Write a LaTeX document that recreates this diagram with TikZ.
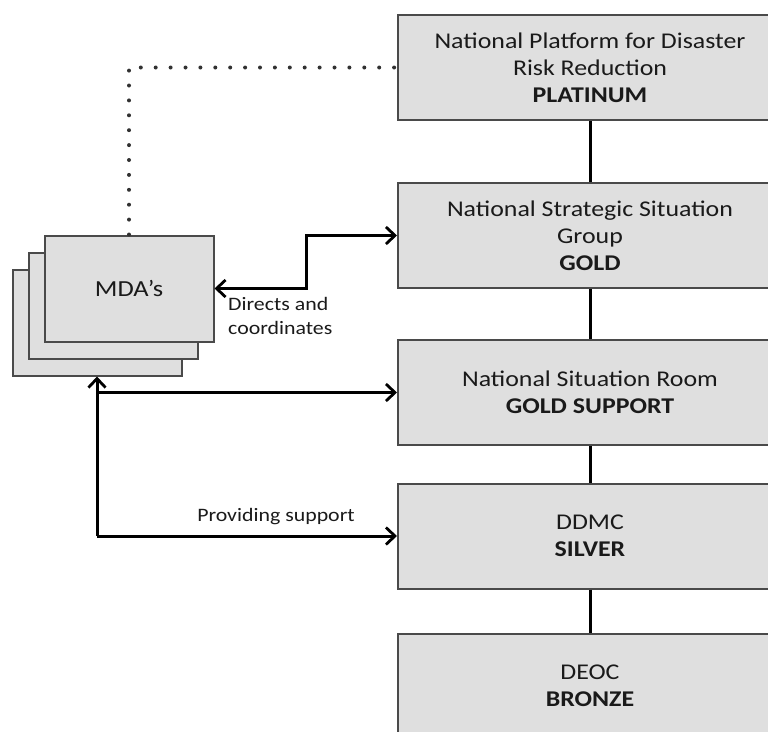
\documentclass[tikz,border=0pt]{standalone}
\usepackage{fontspec}
\setmainfont{Carlito}[FakeStretch=1.15]
\usetikzlibrary{arrows.meta}
\definecolor{boxfill}{HTML}{DFDFDF}
\definecolor{boxline}{HTML}{4A4A4A}
\definecolor{ink}{HTML}{1A1A1A}
\tikzset{
  level/.style={draw=boxline, line width=2pt, fill=boxfill, minimum width=384pt,
    minimum height=105pt, align=center, text=ink, font=\fontsize{22.5}{27}\selectfont,
    inner sep=0pt},
  sheet/.style={draw=boxline, line width=2pt, fill=boxfill, minimum width=169pt,
    minimum height=106pt, inner sep=0pt, text=ink, font=\fontsize{23}{27}\selectfont},
  link/.style={line width=3pt, black},
  tipshape/.style={},
  arr/.style={link, -{Straight Barb[length=9pt, width=17pt, line width=2.8pt]}},
  darr/.style={link, {Straight Barb[length=9pt, width=17pt, line width=2.8pt]}-{Straight Barb[length=9pt, width=17pt, line width=2.8pt]}},
  note/.style={text=ink, font=\fontsize{19}{24}\selectfont, inner sep=0pt},
}
\begin{document}
\begin{tikzpicture}[x=1pt, y=-1pt]
\useasboundingbox (0,0) rectangle (768,731);
\clip (0,0) rectangle (768,731);

% hierarchy of levels on the right
\node[level] (p1) at (590,67.5) {National Platform for Disaster\\Risk Reduction\\\textbf{PLATINUM}};
\node[level] (p2) at (590,235.5) {National Strategic Situation\\Group\\\textbf{GOLD}};
\node[level] (p3) at (590,392.5) {National Situation Room\\\textbf{GOLD SUPPORT}};
\node[level] (p4) at (590,536) {DDMC\\\textbf{SILVER}};
\node[level] (p5) at (590,686) {DEOC\\\textbf{BRONZE}};

\draw[link] (p1.south) -- (p2.north);
\draw[link] (p2.south) -- (p3.north);
\draw[link] (p3.south) -- (p4.north);
\draw[link] (p4.south) -- (p5.north);

% stacked MDA sheets
\node[sheet] (m3) at (97,322.5) {};
\node[sheet] (m2) at (113.5,306) {};
\node[sheet] (m1) at (129,288.5) {MDA’s};

% dotted reporting line to the platform
\coordinate (dotcorner) at (m1.north |- p1.west);
\draw[line width=4pt, color=ink!90, dash pattern=on 0pt off 14.9pt, line cap=round]
  (m1.north) -- (dotcorner) -- (p1.west);

% directs and coordinates
\coordinate (stepA) at (306,0 |- m1.east);
\coordinate (stepB) at (306,0 |- p2.west);
\draw[darr] (m1.east) -- (stepA) -- (stepB) -- (p2.west);
\node[note, anchor=north west, align=left] (dlabel) at (228,297) {Directs and\\coordinates};

% support links
\coordinate (suppA) at (m3.south |- p3.west);
\coordinate (suppB) at (m3.south |- p4.west);
\draw[arr] (suppB) -- (m3.south);
\draw[arr] (suppA) -- (p3.west);
\draw[arr] (suppB) -- (p4.west);
\node[note] (slabel) at (276,517) {Providing support};
\end{tikzpicture}
\end{document}
